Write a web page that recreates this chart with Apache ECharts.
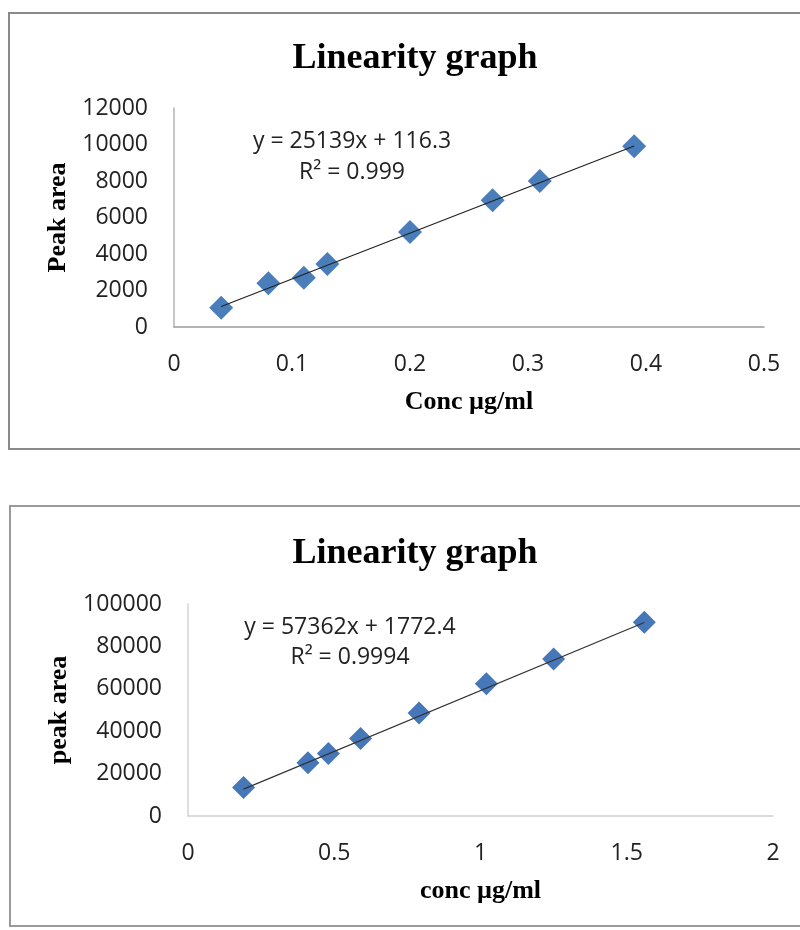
<!DOCTYPE html>
<html>
<head>
<meta charset="utf-8">
<script src="https://cdn.jsdelivr.net/npm/echarts@6/dist/echarts.min.js"></script>
<style>html,body{margin:0;padding:0;background:#fff;}#c{width:800px;height:930px;}</style>
</head>
<body>
<div id="c"></div>
<script>
// ---- Chart 1 data ----
const conc1 = [0.04, 0.08, 0.11, 0.13, 0.2, 0.27, 0.31, 0.39];
const area1 = [1050, 2400, 2700, 3450, 5200, 6950, 8000, 9900];
const trendX1 = [0.04, 0.39];
const trendY1 = [1122, 9920];
const eq1 = ['y = 25139x + 116.3', 'R² = 0.999'];
// ---- Chart 2 data ----
const conc2 = [0.19, 0.41, 0.48, 0.59, 0.79, 1.02, 1.25, 1.56];
const area2 = [13500, 25100, 29500, 36500, 48600, 62400, 74100, 91400];
const trendX2 = [0.19, 1.56];
const trendY2 = [12670, 91260];
const eq2 = ['y = 57362x + 1772.4', 'R² = 0.9994'];
// ---- axis settings ----
const xTicks1 = {min: 0, max: 0.5, interval: 0.1};
const yTicks1 = {min: 0, max: 12000, interval: 2000};
const xTicks2 = {min: 0, max: 2, interval: 0.5};
const yTicks2 = {min: 0, max: 100000, interval: 20000};

const zip = (a, b) => a.map((v, i) => [v, b[i]]);
const SANS = '"Open Sans", sans-serif';
const SERIF = '"Liberation Serif", "Times New Roman", serif';
const plain = v => String(v);

function xAxis(idx, t, name, lineColor) {
  return {
    type: 'value', gridIndex: idx, min: t.min, max: t.max, interval: t.interval,
    name: name, nameLocation: 'middle', nameGap: 62,
    nameTextStyle: {fontFamily: SERIF, fontWeight: 'bold', fontSize: 26, color: '#000'},
    axisLine: {show: true, lineStyle: {color: lineColor, width: 1.5}},
    axisTick: {show: false}, splitLine: {show: false},
    axisLabel: {fontFamily: SANS, fontSize: 23, color: '#222', margin: 26, formatter: plain}
  };
}
function yAxis(idx, t, name, lineColor, gap) {
  return {
    type: 'value', gridIndex: idx, min: t.min, max: t.max, interval: t.interval,
    name: name, nameLocation: 'middle', nameGap: gap,
    nameTextStyle: {fontFamily: SERIF, fontWeight: 'bold', fontSize: 26, color: '#000'},
    axisLine: {show: true, lineStyle: {color: lineColor, width: 1.5}},
    axisTick: {show: false}, splitLine: {show: false},
    axisLabel: {fontFamily: SANS, fontSize: 23, color: '#222', margin: 26, formatter: plain}
  };
}
function eqLine(text, cx, cy) {
  return {type: 'text', x: cx, y: cy, style: {text: text, fontFamily: SANS, fontSize: 23, fill: '#222', textAlign: 'center', textVerticalAlign: 'middle'}};
}

const chart = echarts.init(document.getElementById('c'), null, {renderer: 'canvas'});
chart.setOption({
  animation: false,
  backgroundColor: '#fff',
  title: [
    {text: 'Linearity graph', left: 410, textAlign: 'center', top: 36,
     textStyle: {fontFamily: SERIF, fontWeight: 'bold', fontSize: 36, color: '#000'}},
    {text: 'Linearity graph', left: 410, textAlign: 'center', top: 531,
     textStyle: {fontFamily: SERIF, fontWeight: 'bold', fontSize: 36, color: '#000'}}
  ],
  grid: [
    {left: 174, top: 108, width: 590, height: 219},
    {left: 188, top: 604, width: 585, height: 212}
  ],
  xAxis: [xAxis(0, xTicks1, 'Conc µg/ml', '#9a9a9a'), xAxis(1, xTicks2, 'conc µg/ml', '#cfcfcf')],
  yAxis: [yAxis(0, yTicks1, 'Peak area', '#b5b5b5', 102), yAxis(1, yTicks2, 'peak area', '#d5d5d5', 106)],
  series: [
    {type: 'scatter', xAxisIndex: 0, yAxisIndex: 0, data: zip(conc1, area1),
     symbol: 'diamond', symbolSize: 24, itemStyle: {color: '#4a7ebb', opacity: 1}, z: 2},
    {type: 'line', xAxisIndex: 0, yAxisIndex: 0, data: zip(trendX1, trendY1),
     showSymbol: false, symbol: 'none', lineStyle: {color: '#222', width: 1.2}, z: 3},
    {type: 'scatter', xAxisIndex: 1, yAxisIndex: 1, data: zip(conc2, area2),
     symbol: 'diamond', symbolSize: 23, itemStyle: {color: '#4677b8', opacity: 1}, z: 2},
    {type: 'line', xAxisIndex: 1, yAxisIndex: 1, data: zip(trendX2, trendY2),
     showSymbol: false, symbol: 'none', lineStyle: {color: '#333', width: 1.2}, z: 3}
  ],
  graphic: [
    {type: 'rect', shape: {x: 9, y: 13, width: 800, height: 436}, style: {fill: 'none', stroke: '#8a8a8a', lineWidth: 2}, silent: true},
    {type: 'rect', shape: {x: 10, y: 506, width: 800, height: 420}, style: {fill: 'none', stroke: '#9a9a9a', lineWidth: 2}, silent: true},
    eqLine(eq1[0], 352, 141),
    eqLine(eq1[1], 352, 172),
    eqLine(eq2[0], 350, 627),
    eqLine(eq2[1], 350, 657)
  ]
});
</script>
</body>
</html>
